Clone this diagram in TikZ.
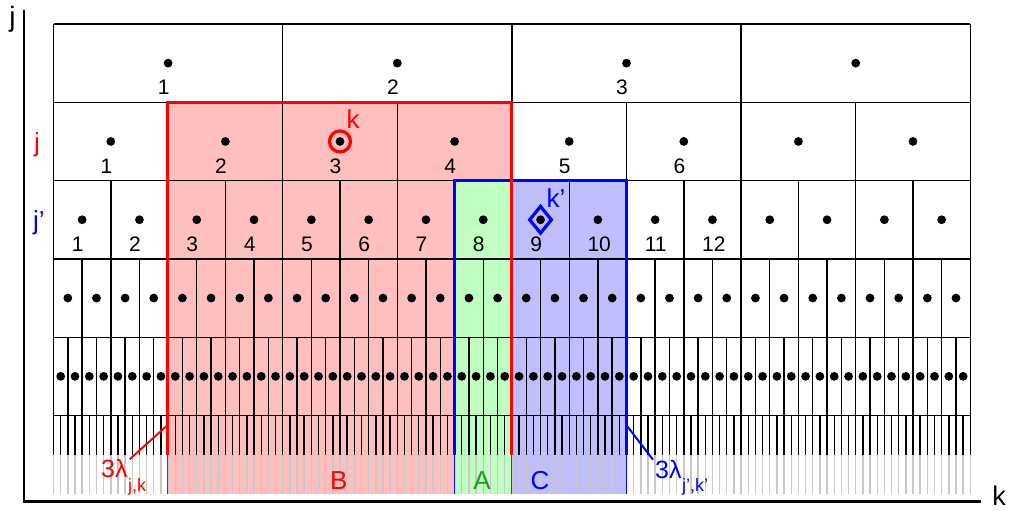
\documentclass[tikz,border=0pt]{standalone}
\usepackage{fontspec}
\setmainfont{Liberation Sans}
\usetikzlibrary{shapes.geometric,positioning}

\definecolor{fillred}{RGB}{255,191,191}
\definecolor{fillblue}{RGB}{191,191,255}
\definecolor{fillgreen}{RGB}{191,255,191}
\definecolor{tickgray}{RGB}{200,200,200}
\definecolor{labgreen}{RGB}{40,150,40}

\begin{document}
\begin{tikzpicture}[x=1pt,y=-1pt,
		gridline/.style={line width=1.4pt},
		rim/.style={line width=3.3pt},
		num/.style={inner sep=0pt,anchor=west,font=\fontsize{21}{21}\selectfont},
		lab/.style={inner sep=0pt,anchor=base,font=\fontsize{26}{26}\selectfont},
		lam/.style={inner sep=0pt,anchor=base west,font=\fontsize{25}{25}\selectfont},
		sub/.style={inner sep=0pt,anchor=base west,font=\fontsize{18}{18}\selectfont}]
			\useasboundingbox (0,0) rectangle (1014,511);

			% regions
			\fill [fillred] (167.7,102.3) rectangle (511.7,494);
			\fill [fillblue] (511.7,180.5) rectangle (626.3,494);
			\fill [fillgreen] (454.5,180.5) rectangle (511.7,494);

			% grid levels
			\foreach \r in {0,...,5}
				\draw [gridline] (53.5,{24+78.3*\r}) -- (970.3,{24+78.3*\r});
			\foreach \r in {0,...,4} {
				\pgfmathsetmacro{\w}{916.8/(4*2^\r)}
				\pgfmathtruncatemacro{\n}{4*2^\r}
				\foreach \i in {0,...,\n}
					\draw [gridline] ({53.5+\i*\w},{24+78.3*\r}) -- ++(0,78.3);
				\foreach \i in {1,...,\n}
					\fill ({53.5+(\i-0.5)*\w},{63.15+78.3*\r}) circle (4.4pt);
			}
			\foreach \i in {0,...,128} {
				\draw [gridline] ({53.5+\i*7.1625},415.5) -- ++(0,39.5);
				\draw [gridline,tickgray] ({53.5+\i*7.1625},455) -- ++(0,39);
			}

			% cell numbers
			\foreach \r/\m in {0/3,1/6,2/12} {
				\pgfmathsetmacro{\w}{916.8/(4*2^\r)}
				\foreach \i in {1,...,\m}
					\node [num] (num\r-\i) at ({53.5+(\i-0.5)*\w-10.5},{87.6+78.3*\r}) {\i};
			}

			% region borders
			\draw [rim,blue] (454.5,455) -- (454.5,180.5) -- (626.3,180.5) -- (626.3,455);
			\draw [line width=1.4pt,blue] (454.5,455) -- (454.5,494);
			\draw [line width=1.4pt,blue] (626.3,455) -- (626.3,494);
			\draw [rim,red] (167.7,455) -- (167.7,102.3) -- (511.7,102.3) -- (511.7,455);
			\draw [line width=1.4pt,red] (167.7,455) -- (167.7,494);
			\draw [line width=1.4pt,red] (511.7,455) -- (511.7,494);

			% marked cells
			\node [circle,draw=red,line width=3.2pt,minimum size=21pt,inner sep=0pt] (markk) at (340,141.45) {};
			\node [lab,red] (labk) at (353,128) {k};
			\node [diamond,draw=blue,line width=3.2pt,minimum width=23pt,minimum height=28pt,inner sep=0pt] (markkp) at (540.5,219.75) {};
			\node [lab,blue] (labkp) at (556,207) {k’};

			% level labels
			\node [lab,red] (levj) at (37,151) {j};
			\node [lab,blue] (levjp) at (39,229) {j’};

			% support labels
			\node [lab,red] (supB) at (338.7,489) {B};
			\node [lab,labgreen] (supA) at (482,489) {A};
			\node [lab,blue] (supC) at (540,489) {C};

			\coordinate (redfoot) at (167.7,425);
			\node [lam,red] (lamjk) at (101,477.5) {3λ};
			\node [sub,red] (subjk) at (lamjk.base east) [yshift=-14pt] {j,k};
			\draw [line width=2pt,red] (redfoot) to ([xshift=2pt]lamjk.north east);

			\coordinate (bluefoot) at (626.3,425);
			\node [lam,blue] (lamjkp) at (655,478) {3λ};
			\node [sub,blue] (subjkp) at (lamjkp.base east) [yshift=-13pt] {j’,k’};
			\draw [line width=2pt,blue] (bluefoot) to ([xshift=-2pt]lamjkp.north west);

			% axes
			\coordinate (top) at (24,10);
			\coordinate (origin) at (24,501.7);
			\coordinate (right) at (981,501.7);
			\draw [line width=2.5pt] (top) -- (origin) -- (right);
			\node [lab,font=\fontsize{28}{28}\selectfont] (axisj) at (12.5,27) {j};
			\node [lab,font=\fontsize{27}{27}\selectfont] (axisk) at (999,505.5) {k};
		\end{tikzpicture}
\end{document}
